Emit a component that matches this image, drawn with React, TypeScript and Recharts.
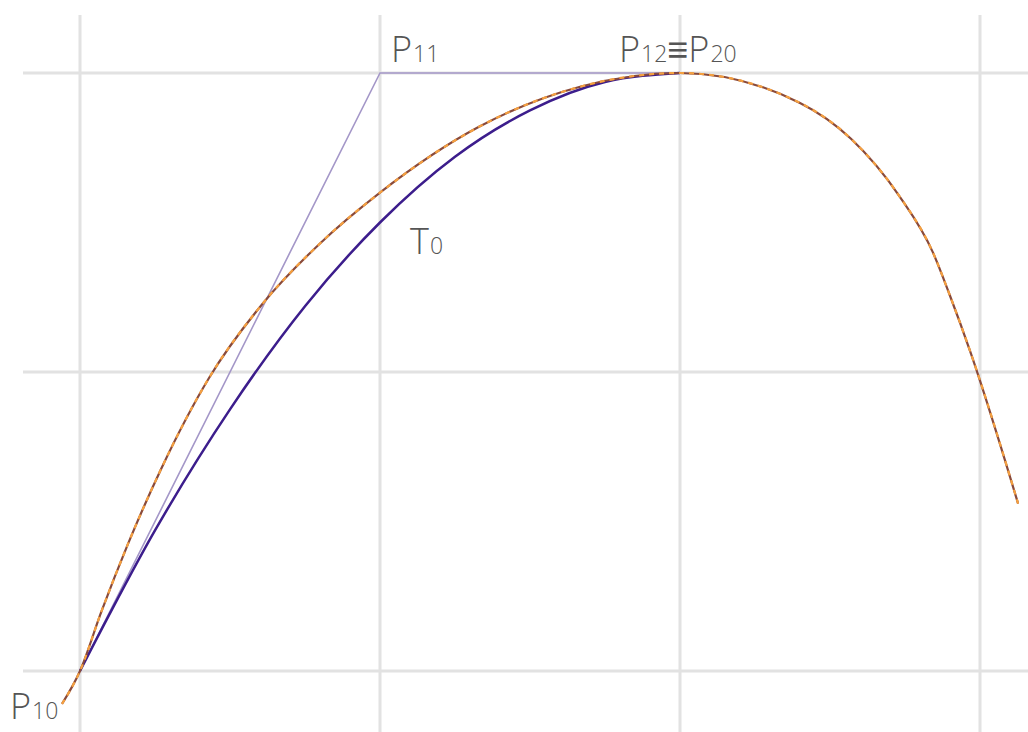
import React from 'react';
import { LineChart, Line, XAxis, YAxis, ReferenceLine, ReferenceDot } from 'recharts';

// grid positions (data units)
const gridXs = [0, 1, 2, 3];
const gridYs = [0, 1, 2];

// control polygon P10 -> P11 -> P12
const polyXs = [0, 1, 2];
const polyYs = [0, 2, 2];

// quadratic curve T0
const curveXs = [0, 0.25, 0.5, 0.75, 1, 1.25, 1.5, 1.75, 2];
const curveYs = [0, 0.47, 0.875, 1.22, 1.5, 1.72, 1.875, 1.97, 2];

// dashed target curve
const targetXs = [-0.06, 0, 0.07, 0.16, 0.27, 0.43, 0.61, 0.8, 1, 1.33, 1.67, 2, 2.4, 2.57, 2.73, 2.843, 2.9, 2.967, 3.127];
const targetYs = [-0.11, 0, 0.195, 0.425, 0.675, 0.98, 1.23, 1.43, 1.6, 1.82, 1.955, 2, 1.9, 1.78, 1.59, 1.4, 1.255, 1.07, 0.56];

const labelNames = ['P10', 'P11', 'P12≡P20', 'T0'];

const zip = (xs: number[], ys: number[]) => xs.map((x, i) => ({ x, y: ys[i] }));

const polyData = zip(polyXs, polyYs);
const curveData = zip(curveXs, curveYs);
const targetData = zip(targetXs, targetYs);

const W = 1028;
const H = 732;
const X_DOMAIN: [number, number] = [-80 / 300, 948 / 300];
const Y_DOMAIN: [number, number] = [-61 / 299, 671 / 299];

const FONT = '"Open Sans", "DejaVu Sans", sans-serif';

// split "P12≡P20" into big letters and small digit runs
const splitParts = (s: string) => {
  const parts: { t: string; small: boolean }[] = [];
  for (const ch of s) {
    const small = /[0-9]/.test(ch);
    const last = parts[parts.length - 1];
    if (last && last.small === small) last.t += ch;
    else parts.push({ t: ch, small });
  }
  return parts;
};

const SubLabel = (props: any) => {
  const { viewBox, name, dx, dy } = props;
  const x = viewBox.x + (viewBox.width || 0) / 2 + dx;
  const y = viewBox.y + (viewBox.height || 0) / 2 + dy;
  return (
    <text x={x} y={y} fontFamily={FONT} fontWeight={300} fill="#555">
      {splitParts(name).map((p, i) => (
        <tspan key={i} fontSize={p.small ? 23 : 36} dx={p.small ? 1 : 0}>
          {p.t}
        </tspan>
      ))}
    </text>
  );
};

const labelAnchors = [
  { x: 0, y: 0, dx: -70, dy: 48 },
  { x: 1, y: 2, dx: 11, dy: -11 },
  { x: 2, y: 2, dx: -61, dy: -11 },
  { x: 1, y: 1.5, dx: 30, dy: 31 },
];

export default function App() {
  return (
    <div style={{ position: 'absolute', left: 0, top: 0, background: '#fff' }}>
      <LineChart width={W} height={H} margin={{ top: 0, right: 0, bottom: 0, left: 0 }}>
        <XAxis type="number" dataKey="x" domain={X_DOMAIN} hide allowDataOverflow />
        <YAxis type="number" dataKey="y" domain={Y_DOMAIN} hide allowDataOverflow />
        {gridXs.map((gx) => (
          <ReferenceLine
            key={'vx' + gx}
            segment={[{ x: gx, y: 2.194 }, { x: gx, y: Y_DOMAIN[0] }]}
            stroke="#e2e2e2"
            strokeWidth={3}
          />
        ))}
        {gridYs.map((gy) => (
          <ReferenceLine
            key={'hy' + gy}
            segment={[{ x: -0.19, y: gy }, { x: X_DOMAIN[1], y: gy }]}
            stroke="#e2e2e2"
            strokeWidth={3}
          />
        ))}
        <Line data={polyData} dataKey="y" type="linear" stroke="#a497c8" strokeWidth={1.6} dot={false} activeDot={false} isAnimationActive={false} />
        <Line data={curveData} dataKey="y" type="monotone" stroke="#3c1d8c" strokeWidth={2.5} dot={false} activeDot={false} isAnimationActive={false} />
        <Line data={targetData} dataKey="y" type="monotone" stroke="#8a4a3a" strokeWidth={2.2} dot={false} activeDot={false} isAnimationActive={false} />
        <Line data={targetData} dataKey="y" type="monotone" stroke="#f5a040" strokeWidth={2.2} strokeDasharray="5 5" dot={false} activeDot={false} isAnimationActive={false} />
        {labelNames.map((name, i) => (
          <ReferenceDot
            key={name}
            x={labelAnchors[i].x}
            y={labelAnchors[i].y}
            r={0}
            fill="none"
            stroke="none"
            label={(p: any) => <SubLabel {...p} name={name} dx={labelAnchors[i].dx} dy={labelAnchors[i].dy} />}
          />
        ))}
      </LineChart>
    </div>
  );
}
